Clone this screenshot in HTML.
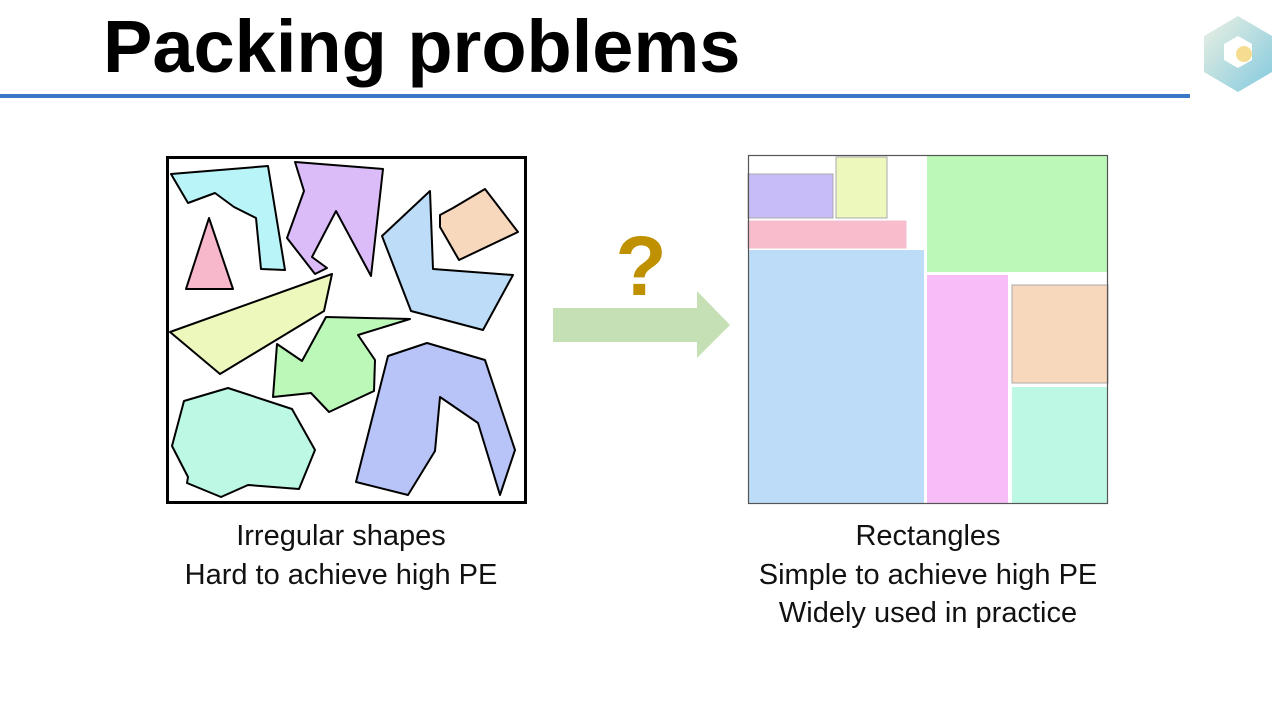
<!DOCTYPE html>
<html><head><meta charset="utf-8"><style>
body{margin:0;width:1280px;height:716px;background:#fff;position:relative;overflow:hidden;font-family:"Liberation Sans",sans-serif}
.t{position:absolute;left:103px;top:4px;font-size:74px;font-weight:bold;color:#000;letter-spacing:0px}
.cap{position:absolute;width:460px;text-align:center;font-family:"Liberation Sans",sans-serif;font-size:29px;line-height:38.5px;color:#111}
</style></head><body>
<div class="t">Packing problems</div>
<div style="position:absolute;left:0;top:94px;width:1190px;height:4px;background:#3a78c8"></div>
<svg width="1280" height="716" style="position:absolute;left:0;top:0">
<defs><linearGradient id="g" x1="0" y1="0" x2="1" y2="1"><stop offset="0" stop-color="#e8eedd"/><stop offset="1" stop-color="#6cc0d8"/></linearGradient></defs>
<g stroke="#000" stroke-width="2" stroke-linejoin="round">
<polygon fill="#b8f4f8" points="171,174 268,166 285,270 261,269 256,218 234,207 215,193 188,203"/>
<polygon fill="#f8b8cc" points="209,218 233,289 186,289"/>
<polygon fill="#dcbcf8" points="295,162 383,169 371,276 336,211 312,257 327,268 315,274 287,238 304,191"/>
<polygon fill="#f8d8bc" points="485,189 518,232 459,260 440,227 440,215 453,208"/>
<polygon fill="#bcdcf8" points="430,191 433,269 513,275 483,330 411,311 382,236"/>
<polygon fill="#ecf8bc" points="332,274 324,311 220,374 170,332"/>
<polygon fill="#bcf8b8" points="326,317 410,319 358,335 375,360 374,391 329,412 311,393 273,397 277,344 302,361"/>
<polygon fill="#b8c4f8" points="427,343 485,360 515,450 500,495 478,423 440,397 435,451 408,495 356,482 388,356"/>
<polygon fill="#bcf8e4" points="228,388 292,409 315,450 299,489 248,485 221,497 187,483 188,477 172,446 184,401"/>
</g>
<rect x="167.5" y="157.5" width="358" height="345" fill="none" stroke="#000" stroke-width="3"/>
<polygon fill="#c5e0b4" points="553,308 697,308 697,291 730,325 697,358 697,342 553,342"/>
<text x="641" y="295" text-anchor="middle" font-family="Liberation Sans" font-weight="bold" font-size="84" fill="#bf9000">?</text>
<g stroke="#aaa" stroke-width="1">
<rect x="748" y="174" width="85" height="44" fill="#c8bcf8"/>
<rect x="836" y="157" width="51" height="61" fill="#ecf8bc"/>
<rect x="748" y="221" width="158" height="27" fill="#f8bccc" stroke="#f0c0d0"/>
<rect x="748" y="250" width="176" height="254" fill="#bcdcf8" stroke="none"/>
<rect x="927" y="156" width="181" height="116" fill="#bcf8b8" stroke="none"/>
<rect x="927" y="275" width="81" height="229" fill="#f8bcf8" stroke="none"/>
<rect x="1012" y="285" width="96" height="98" fill="#f8d8bc"/>
<rect x="1012" y="387" width="96" height="117" fill="#bcf8e4" stroke="none"/>
</g>
<rect x="748.5" y="155.5" width="359" height="348" fill="none" stroke="#555" stroke-width="1.2"/>
<g transform="translate(1200,14)">
<polygon points="38,2 72,22 72,58 38,78 4,58 4,22" fill="url(#g)" opacity="0.85"/>
<polygon points="38,22 52,30 52,46 38,54 24,46 24,30" fill="#fff"/>
<circle cx="44" cy="40" r="8" fill="#f5dc90"/>
</g>
</svg>
<div class="cap" style="left:111px;top:517px">Irregular shapes<br>Hard to achieve high PE</div>
<div class="cap" style="left:698px;top:517px">Rectangles<br>Simple to achieve high PE<br>Widely used in practice</div>
</body></html>
